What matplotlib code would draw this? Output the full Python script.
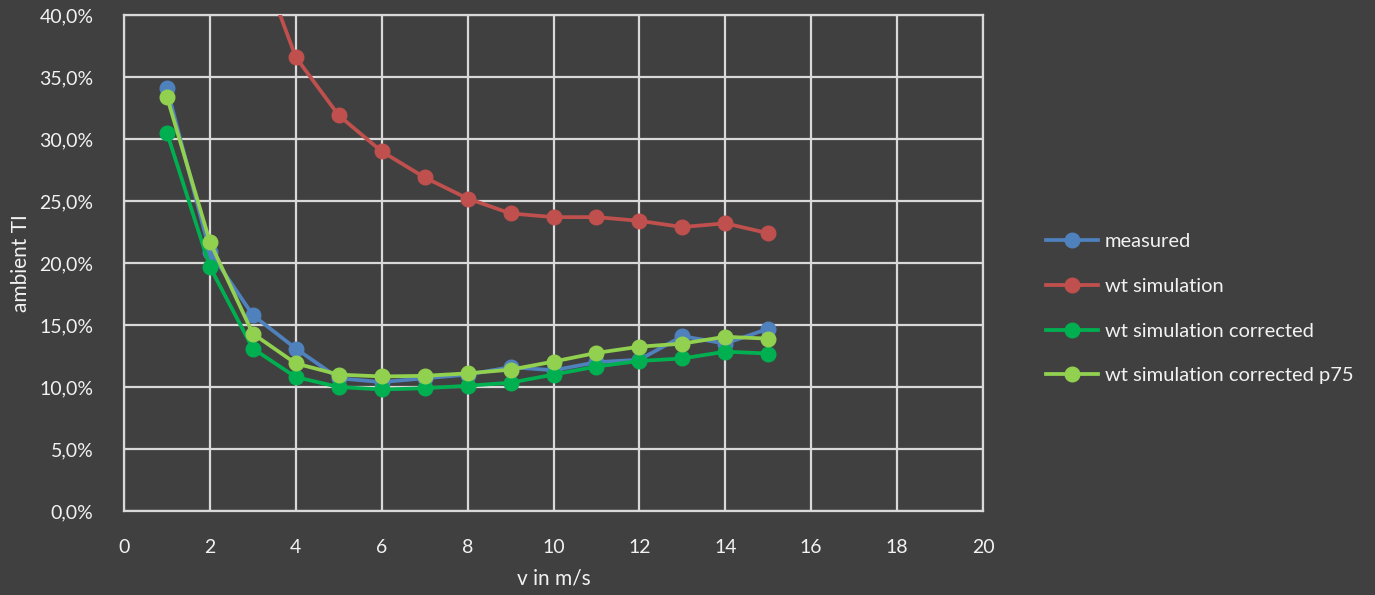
import matplotlib
matplotlib.use("Agg")
import matplotlib.pyplot as plt
from matplotlib.ticker import FuncFormatter, MultipleLocator

plt.rcParams['font.family'] = ['Lato', 'DejaVu Sans']

v = [1, 2, 3, 4, 5, 6, 7, 8, 9, 10, 11, 12, 13, 14, 15]
measured = [34.1, 20.9, 15.8, 13.1, 10.7, 10.4, 10.7, 11.0, 11.6, 11.35, 12.0, 12.2, 14.1, 13.5, 14.7]
v_sim = [3, 4, 5, 6, 7, 8, 9, 10, 11, 12, 13, 14, 15]
wt_sim = [45.9, 36.6, 31.9, 29.0, 26.9, 25.2, 24.0, 23.7, 23.7, 23.4, 22.9, 23.2, 22.4]
wt_corr = [30.5, 19.7, 13.1, 10.8, 10.0, 9.8, 9.9, 10.1, 10.35, 11.0, 11.65, 12.1, 12.3, 12.85, 12.7]
wt_corr_p75 = [33.4, 21.7, 14.3, 11.9, 11.0, 10.85, 10.9, 11.1, 11.4, 12.05, 12.75, 13.25, 13.5, 14.05, 13.9]

series = [
    ("measured", v, measured, "#4F81BD"),
    ("wt simulation", v_sim, wt_sim, "#C0504D"),
    ("wt simulation corrected", v, wt_corr, "#00B050"),
    ("wt simulation corrected p75", v, wt_corr_p75, "#92D050"),
]

bg = "#404040"
grid_c = "#d9d9d9"
txt_c = "#f2f2f2"

fig = plt.figure(figsize=(13.75, 5.95), dpi=100, facecolor=bg)
ax = fig.add_axes([124/1375, 1 - 511/595, (983-124)/1375, (511-15)/595])
ax.set_facecolor(bg)

for name, xs, ys, col in series:
    ax.plot(xs, ys, color=col, lw=2.7, marker='o', ms=10.5, label=name,
            solid_joinstyle='round', clip_on=True, zorder=3)

ax.set_xlim(0, 20)
ax.set_ylim(0, 40)
ax.xaxis.set_major_locator(MultipleLocator(2))
ax.yaxis.set_major_locator(MultipleLocator(5))
ax.yaxis.set_major_formatter(FuncFormatter(lambda y, p: f"{y:.1f}".replace('.', ',') + "%"))
ax.grid(True, color=grid_c, lw=1.6, zorder=1)
for s in ax.spines.values():
    s.set_color(grid_c)
    s.set_linewidth(1.6)
ax.tick_params(length=0, colors=txt_c, labelsize=14)
ax.tick_params(axis='x', pad=20)
ax.tick_params(axis='y', pad=22)
ax.set_xlabel("v in m/s", color=txt_c, fontsize=15, labelpad=9)
ax.set_ylabel("ambient TI", color=txt_c, fontsize=15, labelpad=6)

leg = fig.legend(loc='upper left', bbox_to_anchor=(1028/1375, 1 - 215/595),
                 frameon=False, fontsize=14.5, labelcolor=txt_c,
                 handlelength=2.6, handletextpad=0.3, labelspacing=1.37)

fig.savefig("out.png", dpi=100, facecolor=bg)
